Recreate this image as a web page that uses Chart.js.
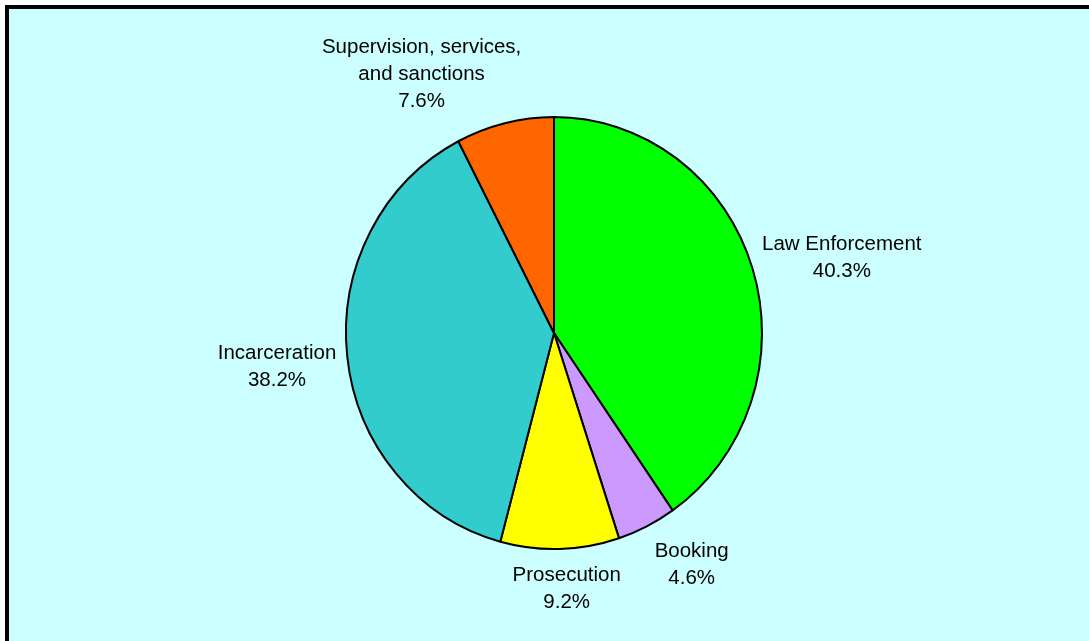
<!DOCTYPE html>
<html>
<head>
<meta charset="utf-8">
<script src="https://cdn.jsdelivr.net/npm/chart.js@4/dist/chart.umd.min.js"></script>
<style>
  html, body { margin: 0; padding: 0; background: #ffffff; }
  canvas { display: block; }
</style>
</head>
<body>
<canvas id="chart" width="1089" height="641"></canvas>
<script>
// Share of spending by stage of the justice system (percent)
const categories = [
  ['Law Enforcement'],
  ['Booking'],
  ['Prosecution'],
  ['Incarceration'],
  ['Supervision, services,', 'and sanctions']
];
const shares = [40.3, 4.6, 9.2, 38.2, 7.6];
const sliceColors = ['#00FF00', '#CC99FF', '#FFFF00', '#33CCCC', '#FF6600'];

// The pie is drawn slightly taller than wide
const STRETCH_Y = 216 / 208;
const LABEL_FONT = '20.5px "Liberation Sans", Arial, sans-serif';
const LINE_HEIGHT = 27;
const LABEL_GAP = 10;
// fine adjustments of each label block [dx, dy]
const LABEL_NUDGE = [[0, 0.5], [22, 3], [5, 2.5], [-1, 6.5], [-56.5, 1]];

// cyan panel with a heavy black frame on its top and left edges
const framePlugin = {
  id: 'frame',
  beforeDraw(chart) {
    const { ctx, width, height } = chart;
    ctx.save();
    ctx.fillStyle = '#ffffff';
    ctx.fillRect(0, 0, width, height);
    ctx.fillStyle = '#000000';
    ctx.fillRect(5, 5, width - 5, height - 5);
    ctx.fillStyle = '#CCFFFF';
    ctx.fillRect(9, 9, width - 9, height - 9);
    ctx.restore();
  }
};

const stretchPlugin = {
  id: 'stretch',
  beforeDatasetsDraw(chart) {
    const arc = chart.getDatasetMeta(0).data[0];
    const ctx = chart.ctx;
    ctx.save();
    ctx.translate(arc.x, arc.y);
    ctx.scale(1, STRETCH_Y);
    ctx.translate(-arc.x, -arc.y);
  },
  afterDatasetsDraw(chart) {
    chart.ctx.restore();
  }
};

// category name and percentage outside each slice
const outsideLabels = {
  id: 'outsideLabels',
  afterDraw(chart) {
    const ctx = chart.ctx;
    const meta = chart.getDatasetMeta(0);
    ctx.save();
    ctx.font = LABEL_FONT;
    ctx.fillStyle = '#000000';
    ctx.textAlign = 'center';
    ctx.textBaseline = 'middle';
    meta.data.forEach((arc, i) => {
      const mid = (arc.startAngle + arc.endAngle) / 2;
      const dx = Math.cos(mid), dy = Math.sin(mid);
      const rx = arc.outerRadius, ry = arc.outerRadius * STRETCH_Y;
      const ax = arc.x + dx * (rx + LABEL_GAP);
      const ay = arc.y + dy * (ry + LABEL_GAP);
      const lines = [...categories[i], shares[i].toFixed(1) + '%'];
      const w = Math.max(...lines.map(t => ctx.measureText(t).width));
      const h = lines.length * LINE_HEIGHT;
      const m = Math.max(Math.abs(dx), Math.abs(dy));
      const fx = 0.5 - 0.5 * dx / m;
      const fy = 0.5 - 0.5 * dy / m;
      const left = ax - fx * w + LABEL_NUDGE[i][0];
      const top = ay - fy * h + LABEL_NUDGE[i][1];
      lines.forEach((t, j) => {
        ctx.fillText(t, left + w / 2, top + LINE_HEIGHT * (j + 0.5));
      });
    });
    ctx.restore();
  }
};

new Chart(document.getElementById('chart'), {
  type: 'pie',
  data: {
    labels: categories.map(c => c.join(' ')),
    datasets: [{
      data: shares,
      backgroundColor: sliceColors,
      borderColor: '#000000',
      borderWidth: 2
    }]
  },
  options: {
    responsive: false,
    animation: false,
    radius: 208,
    layout: { padding: { left: 119, right: 100, top: 75, bottom: 50 } },
    plugins: {
      legend: { display: false },
      tooltip: { enabled: false }
    }
  },
  plugins: [framePlugin, stretchPlugin, outsideLabels]
});
</script>
</body>
</html>
